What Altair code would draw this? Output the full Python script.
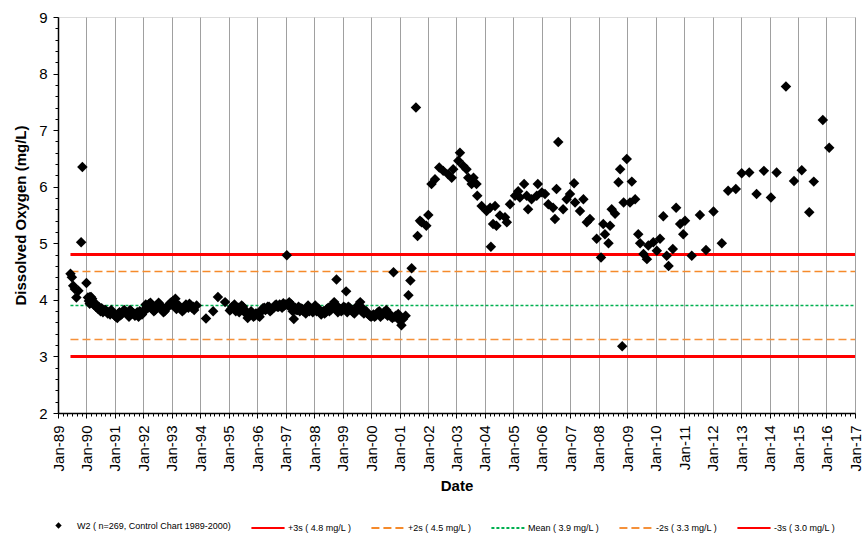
import altair as alt
import pandas as pd

# ---------------- data ----------------
series_name = "W2  ( n=269, Control Chart 1989-2000)"

early_dates = ["1989-06-10", "1989-06-28", "1989-07-15", "1989-08-05", "1989-08-25",
               "1989-09-20", "1989-10-25", "1989-11-10", "1990-01-01", "1990-01-20",
               "1990-02-12"]
early_values = [4.46, 4.40, 4.25, 4.19, 4.04, 4.16, 5.02, 6.35, 4.30, 4.04, 3.93]

# mid-month samples (Jan..Dec), None = no sample
band_1990 = [None, 4.05, 4.02, 3.95, 3.90, 3.87, 3.85, 3.82, 3.80, 3.78, 3.82, 3.75]
band_1991 = [3.70, 3.76, 3.73, 3.80, 3.78, 3.74, 3.82, 3.76, 3.72, 3.78, 3.80, 3.74]
band_1992 = [3.82, 3.88, 3.93, 3.85, 3.80, 3.90, 3.95, 3.85, 3.78, 3.84, 3.90, 3.95]
band_1993 = [3.98, 4.02, 3.90, 3.85, 3.80, 3.86, 3.88, 3.93, 3.86, 3.82, 3.90, None]
band_1994 = [None, None, 3.67, None, None, 3.80, None, 4.05, None, None, 3.96, None]
band_1995 = [3.81, 3.88, 3.92, 3.85, 3.78, 3.90, 3.84, 3.75, 3.72, 3.80, 3.70, 3.76]
band_1996 = [3.72, 3.78, 3.85, 3.82, 3.88, 3.80, 3.85, 3.90, 3.88, 3.92, 3.86, 3.90]
band_1997 = [4.79, 3.96, 3.92, 3.66, 3.82, 3.88, 3.85, 3.80, 3.76, 3.90, 3.85, 3.78]
band_1998 = [3.90, 3.85, 3.80, 3.78, 3.76, 3.84, 3.80, 3.90, 3.96, 4.36, 3.85, 3.80]
band_1999 = [3.88, 4.15, 3.88, 3.82, 3.78, 3.80, 3.90, 3.96, 3.85, 3.78, 3.76, 3.72]
band_2000 = [3.72, 3.70, 3.76, 3.80, 3.74, 3.78, 3.82, 3.76, 3.70, 4.49, 3.72, 3.75]
# start-of-month samples (Jan..Dec)
band2_1990 = [None, 3.98, 4.05, 3.92, 3.88, 3.84, 3.80, 3.78, 3.82, 3.76, 3.74, 3.78]
band2_1991 = [3.72, 3.68, 3.78, 3.75, 3.82, 3.78, 3.70, 3.80, 3.76, 3.74, 3.70, 3.78]
band2_1992 = [3.78, 3.92, 3.86, 3.95, 3.84, 3.82, 3.88, 3.92, 3.82, 3.80, 3.86, 3.92]
band2_1993 = [3.92, 3.96, 3.84, 3.90, 3.84, 3.82, 3.92, 3.86, 3.90, 3.88, None, None]
band2_1994 = [None, None, None, None, None, None, None, None, None, None, None, None]
band2_1995 = [None, 3.84, 3.88, 3.80, 3.86, 3.82, 3.88, 3.78, 3.68, 3.74, 3.76, 3.72]
band2_1996 = [3.76, 3.70, 3.82, 3.86, 3.84, 3.88, 3.82, 3.86, 3.92, 3.88, 3.90, 3.94]
band2_1997 = [3.92, 3.90, 3.88, 3.80, 3.86, 3.82, 3.80, 3.84, 3.82, 3.86, 3.80, 3.84]
band2_1998 = [3.86, 3.80, 3.84, 3.74, 3.80, 3.78, 3.86, 3.82, 3.88, 3.92, 3.78, 3.84]
band2_1999 = [3.82, 3.86, 3.78, 3.86, 3.82, 3.76, 3.84, 3.88, 3.80, 3.76, 3.80, 3.74]
band2_2000 = [3.70, 3.74, 3.72, 3.78, 3.70, 3.74, 3.76, 3.72, 3.74, 3.68, 3.70, None]

band_years = [1990, 1991, 1992, 1993, 1994, 1995, 1996, 1997, 1998, 1999, 2000]
band_rows = [band_1990, band_1991, band_1992, band_1993, band_1994, band_1995,
             band_1996, band_1997, band_1998, band_1999, band_2000]
band2_rows = [band2_1990, band2_1991, band2_1992, band2_1993, band2_1994, band2_1995,
              band2_1996, band2_1997, band2_1998, band2_1999, band2_2000]

late_dates = [
    "2001-01-05", "2001-01-25", "2001-02-15", "2001-03-20", "2001-04-25", "2001-05-20",
    "2001-06-05", "2001-07-30", "2001-08-20", "2001-09-20", "2001-10-10", "2001-12-10",
    "2002-01-05", "2002-02-15", "2002-04-01", "2002-05-25", "2002-07-15", "2002-09-15",
    "2002-11-01", "2002-11-20", "2003-01-25", "2003-02-15", "2003-03-28", "2003-05-10",
    "2003-06-01", "2003-07-15", "2003-08-08", "2003-09-15", "2003-09-25", "2003-11-20",
    "2004-01-22", "2004-03-08", "2004-03-18", "2004-04-15", "2004-05-10", "2004-05-28",
    "2004-07-12", "2004-09-15", "2004-10-08", "2004-11-18", "2005-01-22", "2005-03-03",
    "2005-03-25", "2005-05-18", "2005-06-20", "2005-07-08", "2005-08-22", "2005-10-27",
    "2005-11-10", "2006-01-01", "2006-02-10", "2006-03-25", "2006-05-25", "2006-06-18",
    "2006-07-08", "2006-07-30", "2006-10-01", "2006-11-15", "2006-12-28", "2007-02-18",
    "2007-03-03", "2007-05-05", "2007-06-18", "2007-08-01", "2007-09-10", "2007-12-05",
    "2008-01-30", "2008-02-28", "2008-03-20", "2008-05-05", "2008-05-25", "2008-06-15",
    "2008-07-28", "2008-09-10", "2008-10-01", "2008-10-28", "2008-11-15", "2008-12-25",
    "2009-02-05", "2009-02-28", "2009-04-12", "2009-05-22", "2009-06-15", "2009-07-28",
    "2009-09-10", "2009-09-28", "2009-12-01", "2010-01-15", "2010-02-25", "2010-04-08",
    "2010-05-22", "2010-06-15", "2010-08-08", "2010-09-20", "2010-11-10", "2010-12-20",
    "2011-01-12", "2011-04-08", "2011-07-22", "2011-10-08", "2012-01-12", "2012-04-28",
    "2012-07-18", "2012-10-25", "2013-01-08", "2013-04-15", "2013-07-18", "2013-10-20",
    "2014-01-18", "2014-04-01", "2014-07-30", "2014-11-10", "2015-02-18", "2015-05-25",
    "2015-07-22", "2015-11-15", "2016-02-05"]
late_values = [
    3.63, 3.55, 3.66, 3.72, 4.08, 4.34,
    4.56, 7.40, 5.13, 5.40, 5.37, 5.31,
    5.50, 6.05, 6.13, 6.34, 6.28, 6.22,
    6.16, 6.31, 6.46, 6.60, 6.37, 6.31,
    6.16, 6.05, 6.16, 6.05, 5.84, 5.66,
    5.57, 5.63, 4.94, 5.34, 5.66, 5.31,
    5.49, 5.46, 5.37, 5.69, 5.84, 5.92,
    5.81, 6.05, 5.84, 5.60, 5.78, 5.84,
    6.05, 5.90, 5.87, 5.69, 5.63, 5.43,
    5.96, 6.79, 5.60, 5.78, 5.87, 6.06,
    5.72, 5.57, 5.78, 5.37, 5.43, 5.08,
    4.75, 5.34, 5.16, 5.00, 5.31, 5.60,
    5.52, 6.08, 6.31, 3.18, 5.72, 6.49,
    5.72, 6.09, 5.78, 5.16, 5.00, 4.81,
    4.72, 4.96, 5.02, 4.87, 5.08, 5.48,
    4.78, 4.60, 4.90, 5.63, 5.34, 5.16,
    5.40, 4.78, 5.50, 4.88, 5.56, 5.00,
    5.93, 5.96, 6.24, 6.25, 5.87, 6.28,
    5.81, 6.25, 7.77, 6.10, 6.29, 5.55,
    6.09, 7.18, 6.69]

limit_labels = ["+3s ( 4.8 mg/L )", "+2s ( 4.5 mg/L )", "Mean ( 3.9 mg/L )",
                "-2s ( 3.3 mg/L )", "-3s ( 3.0 mg/L )"]
limit_values = [4.8, 4.5, 3.9, 3.3, 3.0]
limit_colors = ["#ff0000", "#f58a2b", "#00b050", "#f5913a", "#ff0000"]
limit_dashes = [[1, 0], [8, 4], [3, 2], [8, 4], [1, 0]]
limit_widths = [3, 1.5, 1.3, 1.5, 3]
limit_start = "1989-06-10"
limit_end = "2017-01-01"

# ---------------- tables ----------------
obs_dates = list(early_dates)
obs_values = list(early_values)
for yr, row, row2 in zip(band_years, band_rows, band2_rows):
    for m in range(12):
        if row[m] is not None:
            obs_dates.append(f"{yr}-{m + 1:02d}-15")
            obs_values.append(row[m])
        if row2[m] is not None:
            obs_dates.append(f"{yr}-{m + 1:02d}-01")
            obs_values.append(row2[m])
obs_dates += late_dates
obs_values += late_values

obs = pd.DataFrame({"date": obs_dates, "value": obs_values, "series": series_name})
limits = pd.DataFrame({"label": limit_labels, "value": limit_values,
                       "start": limit_start, "end": limit_end, "width": limit_widths})

# ---------------- chart ----------------
FONT = "Liberation Sans"
LEG_FONT = "Liberation Sans Narrow, Arial Narrow, Liberation Sans"

x_ticks = [alt.DateTime(year=y, month=m, date=1)
           for y in range(1989, 2017) for m in (1, 3, 5, 7, 9, 11)] + \
          [alt.DateTime(year=2017, month=1, date=1)]
y_ticks = [round(2 + 0.2 * i, 1) for i in range(36)]

x_scale = alt.Scale(domain=[alt.DateTime(year=1989, month=1, date=1),
                            alt.DateTime(year=2017, month=1, date=1)], nice=False)
y_scale = alt.Scale(domain=[2, 9], nice=False)

x_axis = alt.Axis(values=x_ticks, tickCount=400, format="%b-%y",
                  labelExpr="month(datum.value) == 0 ? datum.label : ''",
                  labelOverlap=False, labelFlush=False, labelBound=False,
                  labelAngle=-90, labelFont=FONT, labelFontSize=15, labelColor="black",
                  labelPadding=7,
                  tickSize={"condition": {"test": "month(datum.value) == 0", "value": 5}, "value": 3},
                  tickColor="black",
                  grid=True, gridColor="#a0a0a0",
                  gridOpacity={"condition": {"test": "month(datum.value) == 0", "value": 1}, "value": 0},
                  domainColor="black", domainWidth=1.5,
                  title="Date", titleFont=FONT, titleFontSize=15, titleFontWeight="bold",
                  titleColor="black", titlePadding=8)

y_axis = alt.Axis(values=y_ticks, tickCount=100, format=".0f",
                  labelExpr="datum.value % 1 == 0 ? datum.label : ''",
                  labelOverlap=False, labelFlush=False,
                  labelFont=FONT, labelFontSize=15, labelColor="black", labelPadding=6,
                  tickSize={"condition": {"test": "datum.value % 1 == 0", "value": 5}, "value": 3},
                  tickColor="black", grid=False,
                  domainColor="black", domainWidth=1.5,
                  title="Dissolved Oxygen (mg/L)", titleFont=FONT, titleFontSize=15,
                  titleFontWeight="bold", titleColor="black", titlePadding=10)

points = alt.Chart(obs).mark_point(shape="diamond", filled=True, color="black",
                                   opacity=1, size=110).encode(
    x=alt.X("date:T", scale=x_scale, axis=x_axis),
    y=alt.Y("value:Q", scale=y_scale, axis=y_axis),
    shape=alt.Shape("series:N", scale=alt.Scale(range=["diamond"]),
                    legend=alt.Legend(title=None, orient="none", legendX=-4, legendY=504,
                                      symbolSize=40, symbolFillColor="black",
                                      symbolStrokeColor="black",
                                      labelFont=LEG_FONT, labelFontSize=9, labelColor="black",
                                      labelOffset=14, padding=0, labelLimit=400)),
)

rules = alt.Chart(limits).mark_rule().encode(
    x=alt.X("start:T", scale=x_scale),
    x2="end:T",
    y=alt.Y("value:Q", scale=y_scale),
    color=alt.Color("label:N",
                    scale=alt.Scale(domain=limit_labels, range=limit_colors),
                    legend=alt.Legend(title=None, orient="none", legendX=192, legendY=493,
                                      direction="horizontal", columns=5, columnPadding=15,
                                      symbolType="stroke", symbolSize=1100,
                                      symbolStrokeWidth=2,
                                      labelFont=LEG_FONT, labelFontSize=9, labelColor="black",
                                      labelOffset=2, padding=0, labelLimit=300)),
    strokeDash=alt.StrokeDash("label:N",
                              scale=alt.Scale(domain=limit_labels, range=limit_dashes)),
    strokeWidth=alt.StrokeWidth("width:Q", scale=None, legend=None),
)

chart = alt.layer(rules, points).properties(
    width=797, height=396,
    padding={"left": 58, "top": 17, "right": 8, "bottom": 121},
    autosize=alt.AutoSizeParams(type="none"),
).configure_view(stroke="black", strokeWidth=1).configure(background="white")

chart.save("out.html", embed_options={"renderer": "svg", "actions": False})
